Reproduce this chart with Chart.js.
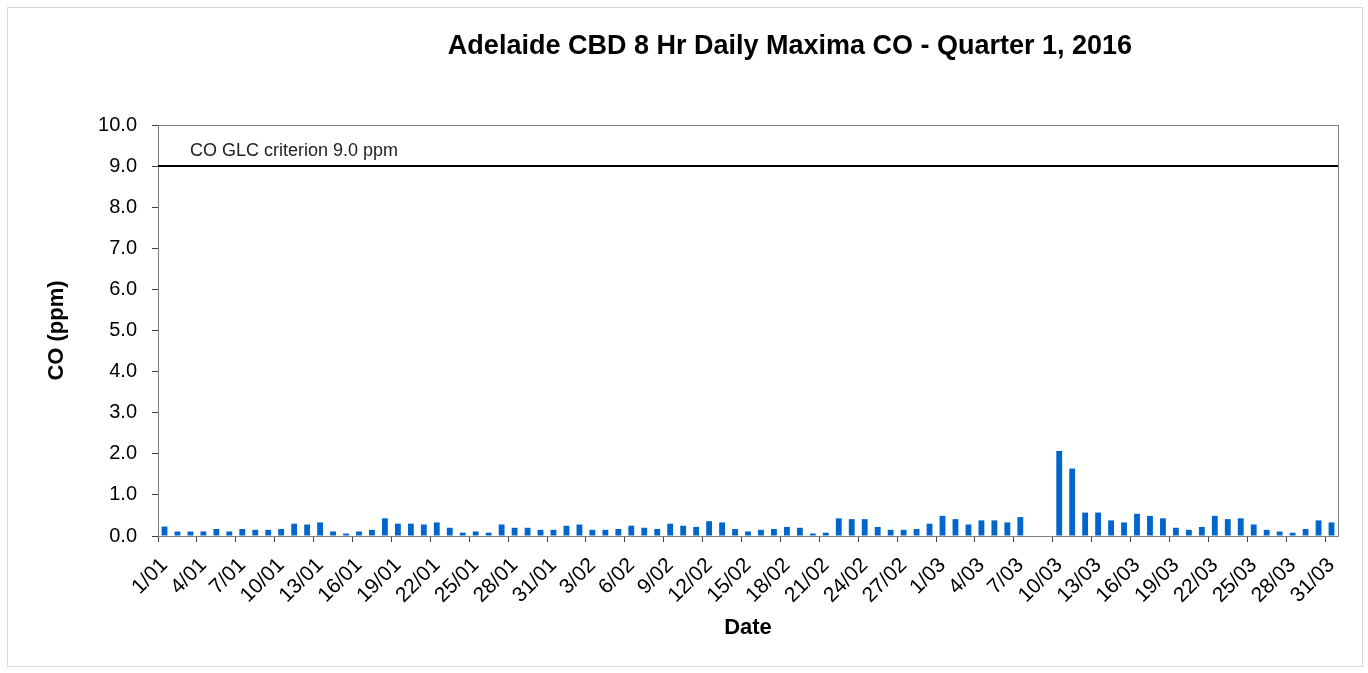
<!DOCTYPE html>
<html>
<head>
<meta charset="utf-8">
<script src="https://cdn.jsdelivr.net/npm/chart.js@4.4.1/dist/chart.umd.min.js"></script>
<style>
  html, body { margin: 0; padding: 0; background: #fff; }
</style>
</head>
<body>
<canvas id="coChart" width="1368" height="673"></canvas>
<script>
const chartTitle = 'Adelaide CBD 8 Hr Daily Maxima CO - Quarter 1, 2016';
const monthCodes = ['01', '02', '03'];
const monthDays = [31, 29, 31];

// 8 hr daily maxima (ppm), 1 Jan - 31 Mar 2016; null = no data
const coValues = [
  0.23, 0.11, 0.11, 0.11, 0.17, 0.11, 0.17, 0.15, 0.15, 0.17,
  0.30, 0.28, 0.33, 0.11, 0.06, 0.11, 0.15, 0.43, 0.30, 0.30,
  0.28, 0.33, 0.20, 0.08, 0.11, 0.08, 0.28, 0.20, 0.20, 0.15,
  0.15, 0.25, 0.28, 0.15, 0.15, 0.17, 0.25, 0.20, 0.17, 0.30,
  0.25, 0.22, 0.36, 0.33, 0.17, 0.11, 0.15, 0.17, 0.22, 0.20,
  0.06, 0.08, 0.43, 0.41, 0.41, 0.22, 0.15, 0.15, 0.17, 0.30,
  0.49, 0.41, 0.28, 0.38, 0.38, 0.33, 0.46, null, null, 2.07,
  1.64, 0.57, 0.57, 0.38, 0.33, 0.54, 0.49, 0.43, 0.20, 0.15,
  0.22, 0.49, 0.41, 0.43, 0.28, 0.15, 0.11, 0.08, 0.17, 0.38,
  0.33
];

const criterion = 9.0;
const criterionLabel = 'CO GLC criterion 9.0 ppm';
const yMin = 0;
const yMax = 10;
const labelEvery = 3;

const FONT = "'Liberation Sans', Arial, sans-serif";

const dayLabels = [];
monthCodes.forEach((m, i) => {
  for (let d = 1; d <= monthDays[i]; d++) dayLabels.push(d + '/' + m);
});

const decorPlugin = {
  id: 'decor',
  beforeDraw(chart) {
    const ctx = chart.ctx;
    ctx.save();
    ctx.fillStyle = '#fff';
    ctx.fillRect(0, 0, chart.width, chart.height);
    ctx.strokeStyle = '#d9d9d9';
    ctx.lineWidth = 1;
    ctx.strokeRect(7.5, 7.5, chart.width - 13, chart.height - 14);
    ctx.restore();
  },
  afterDatasetsDraw(chart) {
    const ctx = chart.ctx;
    const a = chart.chartArea;
    const y = chart.scales.y;
    ctx.save();
    // plot frame
    ctx.strokeStyle = '#808080';
    ctx.lineWidth = 1;
    ctx.strokeRect(Math.round(a.left) + 0.5, Math.round(a.top) + 0.5,
      Math.round(a.right - a.left), Math.round(a.bottom - a.top));
    // criterion line
    const cy = y.getPixelForValue(criterion);
    ctx.strokeStyle = '#000';
    ctx.lineWidth = 2;
    ctx.beginPath();
    ctx.moveTo(a.left, cy);
    ctx.lineTo(a.right, cy);
    ctx.stroke();
    ctx.fillStyle = '#222';
    ctx.font = '18px ' + FONT;
    ctx.textBaseline = 'middle';
    ctx.textAlign = 'left';
    ctx.fillText(criterionLabel, a.left + 32, cy - 15);
    // title
    ctx.fillStyle = '#000';
    ctx.font = 'bold 27px ' + FONT;
    ctx.textAlign = 'center';
    ctx.fillText(chartTitle, 790, 47);
    ctx.restore();
  }
};

new Chart(document.getElementById('coChart'), {
  type: 'bar',
  data: {
    labels: dayLabels,
    datasets: [{
      label: 'CO',
      data: coValues,
      backgroundColor: '#0066cc',
      borderWidth: 0,
      barPercentage: 0.45,
      categoryPercentage: 1.0
    }]
  },
  options: {
    responsive: false,
    animation: false,
    devicePixelRatio: 1,
    layout: { padding: { left: 8, top: 125, right: 30, bottom: 7 } },
    plugins: {
      legend: { display: false },
      title: { display: false },
      tooltip: { enabled: false }
    },
    scales: {
      x: {
        type: 'category',
        offset: true,
        afterFit(scale) { scale.height = 130; },
        grid: {
          offset: true,
          drawOnChartArea: false,
          tickLength: 6,
          color: (c) => (c.index !== undefined && c.index % labelEvery === 0) ? '#404040' : 'rgba(0,0,0,0)'
        },
        border: { color: '#808080' },
        ticks: {
          autoSkip: false,
          maxRotation: 45,
          minRotation: 45,
          padding: 11,
          color: '#000',
          font: { family: FONT, size: 21 },
          callback: (v, i) => (i % labelEvery === 0 ? dayLabels[i] : '')
        },
        title: {
          display: true,
          text: 'Date',
          color: '#000',
          font: { family: FONT, size: 22, weight: 'bold' },
          padding: { bottom: 25 }
        }
      },
      y: {
        min: yMin,
        max: yMax,
        afterFit(scale) { scale.width = 150; },
        grid: { drawOnChartArea: false, tickLength: 6, color: '#404040' },
        border: { color: '#808080' },
        ticks: {
          stepSize: 1,
          padding: 15,
          color: '#000',
          font: { family: FONT, size: 20 },
          callback: (v) => Number(v).toFixed(1)
        },
        title: {
          display: true,
          text: 'CO (ppm)',
          color: '#000',
          font: { family: FONT, size: 22, weight: 'bold' },
          padding: { top: 36 }
        }
      }
    }
  },
  plugins: [decorPlugin]
});
</script>
</body>
</html>
